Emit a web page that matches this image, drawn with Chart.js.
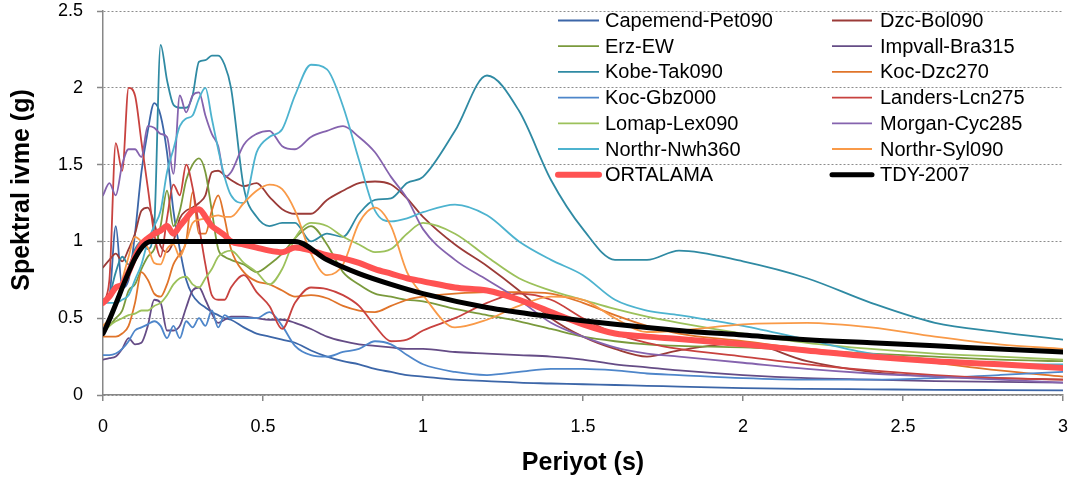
<!DOCTYPE html>
<html>
<head>
<meta charset="utf-8">
<script src="https://cdn.jsdelivr.net/npm/chart.js@4.4.1/dist/chart.umd.min.js"></script>
<style>
html,body{margin:0;padding:0;background:#fff;}
#c{display:block;}
</style>
</head>
<body>
<canvas id="c" width="1079" height="481"></canvas>
<script>
// Period grid (s)
const periods = [0, 0.02, 0.04, 0.06, 0.08, 0.1, 0.12, 0.14, 0.16, 0.18, 0.2, 0.22, 0.24, 0.26, 0.28, 0.3, 0.32, 0.34, 0.36, 0.38, 0.4,
  0.44, 0.48, 0.52, 0.56, 0.6,
  0.65, 0.7, 0.75, 0.8, 0.85, 0.9, 0.95, 1.0,
  1.1, 1.2, 1.3, 1.4, 1.5, 1.6, 1.7, 1.8,
  2.0, 2.2, 2.4, 2.6, 2.8, 3.0];

const capemendPet090 = [0.62, 0.65, 1.1, 0.7, 0.75, 1.05, 1.45, 1.72, 1.9, 1.82, 1.58, 1.2, 0.95, 0.75, 0.65, 0.6, 0.57, 0.54, 0.52, 0.5, 0.49,
  0.44, 0.4, 0.38, 0.36, 0.34,
  0.29, 0.25, 0.22, 0.2, 0.17, 0.15, 0.13, 0.12,
  0.1, 0.09, 0.08, 0.075, 0.07, 0.065, 0.06, 0.055,
  0.045, 0.04, 0.037, 0.034, 0.032, 0.03];
const dzcBol090 = [0.83, 0.88, 0.92, 0.87, 0.95, 1.05, 1.2, 1.22, 1.12, 0.97, 0.93, 1.0, 1.15, 1.2, 1.22, 1.25, 1.3, 1.45, 1.46, 1.43, 1.4,
  1.36, 1.38, 1.29, 1.21, 1.18,
  1.18, 1.27, 1.33, 1.38, 1.39, 1.37, 1.28, 1.16,
  0.98, 0.84, 0.68, 0.5, 0.38, 0.3, 0.25, 0.29,
  0.34, 0.22, 0.15, 0.12, 0.11, 0.1];
const erzEW = [0.42, 0.45, 0.5, 0.55, 0.68, 0.72, 0.82, 0.9, 0.95, 1.1, 1.33, 1.1, 1.2, 1.4, 1.5, 1.54, 1.45, 1.2, 0.95, 0.9, 0.88,
  0.85, 0.8, 0.85, 0.92, 1.02,
  1.1, 0.98, 0.8, 0.72, 0.66, 0.64, 0.62, 0.61,
  0.56, 0.52, 0.48, 0.43, 0.38, 0.35, 0.33, 0.32,
  0.31, 0.29, 0.27, 0.25, 0.23, 0.22];
const impvallBra315 = [0.23, 0.24, 0.25, 0.3, 0.37, 0.33, 0.34, 0.45, 0.62, 0.6, 0.42, 0.42, 0.45, 0.57, 0.68, 0.7, 0.62, 0.53, 0.47, 0.49, 0.51,
  0.51, 0.5, 0.49, 0.49, 0.47,
  0.43, 0.38, 0.35, 0.33, 0.32, 0.31, 0.3, 0.3,
  0.28, 0.27, 0.26, 0.25, 0.23, 0.2, 0.18, 0.16,
  0.13, 0.11, 0.1, 0.09, 0.085, 0.08];
const kobeTak090 = [0.62, 0.65, 0.8, 0.9, 0.85, 0.95, 1.0, 0.95, 1.1, 2.28, 2.05, 1.89, 1.87, 1.87, 1.95, 2.17, 2.18, 2.21, 2.21, 2.15, 2.0,
  1.35, 1.16, 1.1, 1.12, 1.12,
  1.0, 1.05, 1.03, 1.18, 1.27, 1.28, 1.38, 1.42,
  1.72, 2.08, 1.85, 1.4, 1.08, 0.88, 0.88, 0.94,
  0.87, 0.76, 0.6, 0.47, 0.41, 0.36];
const kocDzc270 = [0.38, 0.38, 0.38, 0.4, 0.45, 0.6, 0.8, 0.75, 0.66, 0.64, 0.72, 0.85, 0.92, 1.0, 1.32, 1.05, 1.05, 1.2, 1.3, 1.15, 0.95,
  0.8, 0.74, 0.72, 0.68, 0.64,
  0.65, 0.63, 0.58, 0.55, 0.54, 0.58, 0.62, 0.64,
  0.66, 0.67, 0.67, 0.66, 0.6, 0.52, 0.45, 0.4,
  0.35, 0.3, 0.26, 0.21, 0.16, 0.12];
const kocGbz000 = [0.26, 0.26, 0.27, 0.3, 0.35, 0.42, 0.44, 0.46, 0.48, 0.45, 0.37, 0.45, 0.37, 0.48, 0.44, 0.5, 0.45, 0.55, 0.44, 0.52, 0.5,
  0.5, 0.5, 0.54, 0.45, 0.32,
  0.26, 0.25, 0.28, 0.3, 0.35, 0.33, 0.26, 0.2,
  0.15, 0.13, 0.15, 0.17, 0.17, 0.16, 0.14, 0.13,
  0.11, 0.1, 0.1, 0.11, 0.13, 0.15];
const landersLcn275 = [0.6, 0.75, 1.64, 1.46, 2.0, 1.95, 1.65, 1.35, 1.05, 0.9, 1.15, 1.37, 1.3, 1.5, 1.35, 1.1, 0.85, 0.65, 0.62, 0.62, 0.7,
  0.78, 0.67, 0.58, 0.43, 0.6,
  0.7, 0.69, 0.65, 0.58, 0.45, 0.35, 0.36, 0.42,
  0.5, 0.6, 0.66, 0.62, 0.5, 0.4, 0.34, 0.3,
  0.25, 0.2, 0.16, 0.13, 0.11, 0.1];
const lomapLex090 = [0.4, 0.45, 0.48, 0.5, 0.52, 0.53, 0.55, 0.55, 0.58, 0.6, 0.65, 0.72, 0.76, 0.77, 0.72, 0.7, 0.76, 0.82, 0.9, 0.93, 0.94,
  0.86, 0.8, 0.72, 0.82, 1.02,
  1.12, 1.1, 1.03, 0.98, 0.93, 0.95, 1.05, 1.12,
  1.05, 0.9, 0.76, 0.68, 0.62, 0.56, 0.51, 0.47,
  0.4, 0.34, 0.3, 0.27, 0.25, 0.23];
const morganCyc285 = [1.3, 1.38, 1.3, 1.5, 1.6, 1.6, 1.55, 1.75, 1.74, 1.7, 1.68, 1.44, 1.95, 1.84, 1.95, 1.97, 1.82, 1.7, 1.62, 1.42, 1.45,
  1.63, 1.7, 1.72, 1.62, 1.6,
  1.68, 1.72, 1.75, 1.68, 1.58, 1.42, 1.28, 1.08,
  0.88, 0.75, 0.62, 0.47, 0.38, 0.31, 0.27, 0.25,
  0.21, 0.17, 0.14, 0.12, 0.1, 0.08];
const northrNwh360 = [0.6, 0.6, 0.6, 0.62, 0.65, 0.75, 0.85, 1.0, 1.1, 1.2, 1.45, 1.6, 1.75, 1.8, 1.82, 1.93, 2.0, 1.8, 1.6, 1.42, 1.3,
  1.25, 1.58, 1.68, 1.73, 1.95,
  2.15, 2.12, 1.88, 1.53, 1.2, 1.13, 1.15, 1.19,
  1.24, 1.17, 1.0, 0.88, 0.78, 0.62, 0.55, 0.52,
  0.45, 0.36, 0.27, 0.23, 0.2, 0.2];
const northrSyl090 = [0.45, 0.5, 0.6, 0.75, 0.9, 1.03, 1.0, 0.96, 0.86, 0.85, 0.95, 0.98, 0.9, 1.0, 1.12, 1.14, 1.15, 1.16, 1.17, 1.16, 1.16,
  1.25, 1.33, 1.37, 1.34, 1.2,
  0.92, 0.78, 0.85, 1.12, 1.22, 1.1, 0.8, 0.65,
  0.44, 0.49, 0.58, 0.64, 0.62, 0.5, 0.41, 0.42,
  0.46, 0.47, 0.44, 0.38, 0.33, 0.3];
const ortalama = [0.6, 0.64, 0.7, 0.72, 0.8, 0.9, 0.98, 1.02, 1.05, 1.07, 1.1, 1.05, 1.1, 1.15, 1.2, 1.21, 1.16, 1.1, 1.07, 1.04, 1.0,
  0.98, 0.96, 0.94, 0.93, 0.96,
  0.94, 0.91, 0.89, 0.86, 0.82, 0.79, 0.76, 0.74,
  0.7, 0.68, 0.62, 0.54, 0.46, 0.4, 0.38, 0.365,
  0.33, 0.29, 0.25, 0.22, 0.2, 0.175];

// TDY-2007 design spectrum
const tdyPeriods = [0, 0.15, 0.6, 0.7, 0.8, 0.9, 1.0, 1.2, 1.4, 1.6, 1.8, 2.0, 2.2, 2.4, 2.6, 2.8, 3.0];
const tdy2007 = [0.4, 1.0, 1.0, 0.88, 0.79, 0.72, 0.66, 0.57, 0.51, 0.46, 0.42, 0.39, 0.36, 0.34, 0.32, 0.3, 0.28];

const seriesNames = ['Capemend-Pet090', 'Dzc-Bol090', 'Erz-EW', 'Impvall-Bra315', 'Kobe-Tak090', 'Koc-Dzc270',
  'Koc-Gbz000', 'Landers-Lcn275', 'Lomap-Lex090', 'Morgan-Cyc285', 'Northr-Nwh360', 'Northr-Syl090', 'ORTALAMA', 'TDY-2007'];
const seriesValues = [capemendPet090, dzcBol090, erzEW, impvallBra315, kobeTak090, kocDzc270,
  kocGbz000, landersLcn275, lomapLex090, morganCyc285, northrNwh360, northrSyl090, ortalama, tdy2007];
const seriesColors = ['#3C66A8', '#9B3B38', '#7A9A3C', '#654C86', '#2F8AA3', '#E0742A',
  '#4E86CA', '#C8423F', '#9CC15B', '#8563AE', '#4DB3CF', '#F99A48', '#FF5252', '#000000'];
const seriesWidths = [1.8, 1.8, 1.8, 1.8, 1.8, 1.8, 1.8, 1.8, 1.8, 1.8, 1.8, 1.8, 6, 5];

const FONT = '"Liberation Sans", Arial, sans-serif';
const fmt = v => String(Math.round(v * 10) / 10);

const datasets = seriesNames.map((name, i) => {
  const xs = (name === 'TDY-2007') ? tdyPeriods : periods;
  return {
    label: name,
    data: seriesValues[i].map((v, k) => ({x: xs[k], y: v})),
    borderColor: seriesColors[i],
    backgroundColor: seriesColors[i],
    borderWidth: seriesWidths[i],
    pointRadius: 0,
    fill: false,
    cubicInterpolationMode: 'monotone',
    borderCapStyle: 'round',
    borderJoinStyle: 'round',
    order: seriesNames.length - 1 - i
  };
});

const legendPlugin = {
  id: 'customLegend',
  afterDatasetsDraw(chart) {
    const ctx = chart.ctx;
    ctx.save();
    ctx.font = '20px ' + FONT;
    ctx.textBaseline = 'middle';
    ctx.fillStyle = '#000';
    chart.data.datasets.forEach((ds, i) => {
      const col = i % 2, row = Math.floor(i / 2);
      const y = 20.5 + row * 25.7;
      const lx = col ? 832 : 558;
      const tx = col ? 880 : 605;
      ctx.beginPath();
      ctx.strokeStyle = ds.borderColor;
      ctx.lineWidth = ds.borderWidth;
      ctx.lineCap = ds.borderWidth > 3 ? 'round' : 'butt';
      ctx.moveTo(lx, y);
      ctx.lineTo(lx + (col ? 40 : 41), y);
      ctx.stroke();
      ctx.fillText(ds.label, tx, y + 1);
    });
    ctx.restore();
  }
};

const titlePlugin = {
  id: 'axisTitles',
  afterDraw(chart) {
    const ctx = chart.ctx;
    ctx.save();
    ctx.fillStyle = '#000';
    ctx.font = 'bold 25px ' + FONT;
    ctx.textAlign = 'center';
    ctx.textBaseline = 'middle';
    ctx.fillText('Periyot (s)', 583, 463);
    ctx.translate(22, 190);
    ctx.rotate(-Math.PI / 2);
    ctx.fillText('Spektral ivme (g)', 0, 0);
    ctx.restore();
  }
};

new Chart(document.getElementById('c'), {
  type: 'line',
  data: { datasets },
  options: {
    responsive: false,
    animation: false,
    devicePixelRatio: 1,
    layout: { padding: { top: 11, right: 16, bottom: 0, left: 0 } },
    plugins: { legend: { display: false }, tooltip: { enabled: false } },
    elements: { line: { tension: 0.4 } },
    scales: {
      x: {
        type: 'linear', min: 0, max: 3,
        ticks: { stepSize: 0.5, color: '#000', font: { size: 18, family: FONT }, padding: 15, maxRotation: 0, autoSkip: false, callback: fmt },
        grid: { drawOnChartArea: false, drawTicks: true, tickLength: 6, color: '#878787', lineWidth: 1.5 },
        border: { display: true, color: '#878787', width: 1.5 },
        afterFit: s => { s.height = 86; s.paddingLeft = 0; s.paddingRight = 0; }
      },
      y: {
        min: 0, max: 2.5,
        ticks: { stepSize: 0.5, color: '#000', font: { size: 18, family: FONT }, padding: 14, callback: fmt },
        grid: { color: '#8c8c8c', lineWidth: 1, drawTicks: true, tickLength: 6, tickColor: '#878787', tickWidth: 1.5 },
        border: { display: true, color: '#878787', width: 1.5, dash: [2, 2] },
        afterFit: s => { s.width = 103; s.paddingTop = 0; s.paddingBottom = 0; }
      }
    }
  },
  plugins: [legendPlugin, titlePlugin]
});
</script>
</body>
</html>
